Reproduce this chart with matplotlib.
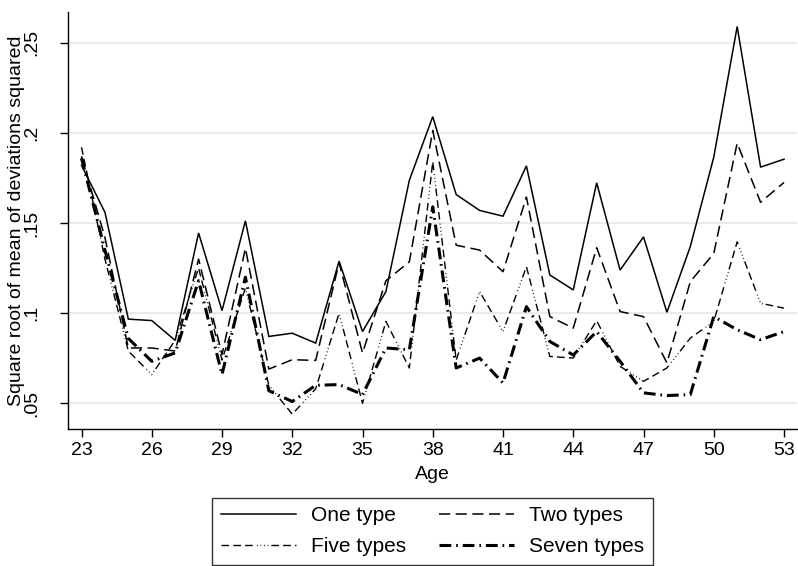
import matplotlib
matplotlib.use("Agg")
import matplotlib.pyplot as plt
import numpy as np

ages = list(range(23, 54))
one_type = [.182, .156, .0967, .0959, .0849, .1445, .1014, .1512, .0871, .0889,
            .0834, .1289, .0898, .112, .1737, .209, .1658, .157, .1538, .1817,
            .1212, .1129, .1723, .1239, .1423, .1005, .137, .1865, .259, .181, .1854]
two_types = [.187, .142, .0807, .0807, .079, .130, .077, .136, .069, .0742,
             .0738, .128, .0779, .118, .1285, .2013, .1377, .135, .123, .1644,
             .0981, .0917, .1363, .1009, .0981, .0724, .1175, .1331, .1943, .1615, .1725]
five_types = [.192, .13, .079, .0659, .085, .125, .074, .114, .060, .044,
              .058, .100, .050, .0954, .0696, .184, .074, .112, .0898, .1258,
              .076, .0751, .0958, .0705, .0622, .0696, .0862, .0954, .1396, .1055, .1028]
seven_types = [.186, .135, .086, .0733, .078, .118, .066, .12, .057, .051,
               .060, .0604, .0549, .0807, .0797, .159, .0696, .0751, .0613, .1036,
               .0843, .0768, .0898, .0733, .0558, .0543, .0549, .0981, .0908, .0853, .0898]

xticks = list(range(23, 54, 3))
yticks = [.05, .1, .15, .2, .25]
ytick_labels = [".05", ".1", ".15", ".2", ".25"]

plt.rcParams['font.family'] = ['Liberation Sans', 'DejaVu Sans']
plt.rcParams['lines.scale_dashes'] = False

fig = plt.figure(figsize=(7.98, 5.66), dpi=100)
ax = fig.add_axes([68.3/798, 1 - 429.3/566, (797-68.3)/798, (429.3-11.7)/566])

l1, = ax.plot(ages, one_type, color='black', lw=1.1, solid_joinstyle='miter', label='One type')
l2, = ax.plot(ages, two_types, color='black', lw=1.1, linestyle=(0, (8, 4)), label='Two types')
l5, = ax.plot(ages, five_types, color='black', lw=1.0,
              linestyle=(0, (5.5, 3, 5.5, 3, 5.5, 3, 0.6, 2, 0.6, 2, 0.6, 2, 0.6, 2)),
              label='Five types')
l7, = ax.plot(ages, seven_types, color='black', lw=2.2,
              linestyle=(0, (8.5, 3.5, 1.2, 3.5)), label='Seven types')

ax.set_xlim(22.436, 53.555)
ax.set_ylim(0.0356, 0.2672)
ax.set_xticks(xticks)
ax.set_xticklabels([str(a) for a in xticks])
ax.set_yticks(yticks)
ax.set_yticklabels(ytick_labels, rotation=90, va='center')
ax.grid(axis='y', color='#e6e6e6', lw=1.2)
ax.set_axisbelow(True)
for s in ['top', 'right']:
    ax.spines[s].set_visible(False)
for s in ['left', 'bottom']:
    ax.spines[s].set_linewidth(1.0)
ax.tick_params(axis='both', length=6, width=1.0, labelsize=14, colors='black')
ax.tick_params(axis='y', pad=14)
ax.tick_params(axis='x', pad=3)
ax.set_xlabel('Age', fontsize=14, labelpad=5)
ax.set_ylabel('Square root of mean of deviations squared', fontsize=14, labelpad=-1)

leg = fig.legend([l1, l5, l2, l7], ['One type', 'Five types', 'Two types', 'Seven types'],
                 ncol=2, loc='upper center', bbox_to_anchor=(432.5/798, 1 - 497.7/566),
                 fontsize=15, frameon=True, fancybox=False, edgecolor='black',
                 handlelength=3.6, handletextpad=0.7, columnspacing=1.6,
                 labelspacing=0.55, borderpad=0.42, borderaxespad=0)
leg.get_frame().set_linewidth(1.0)

fig.savefig('out.png', dpi=100)
